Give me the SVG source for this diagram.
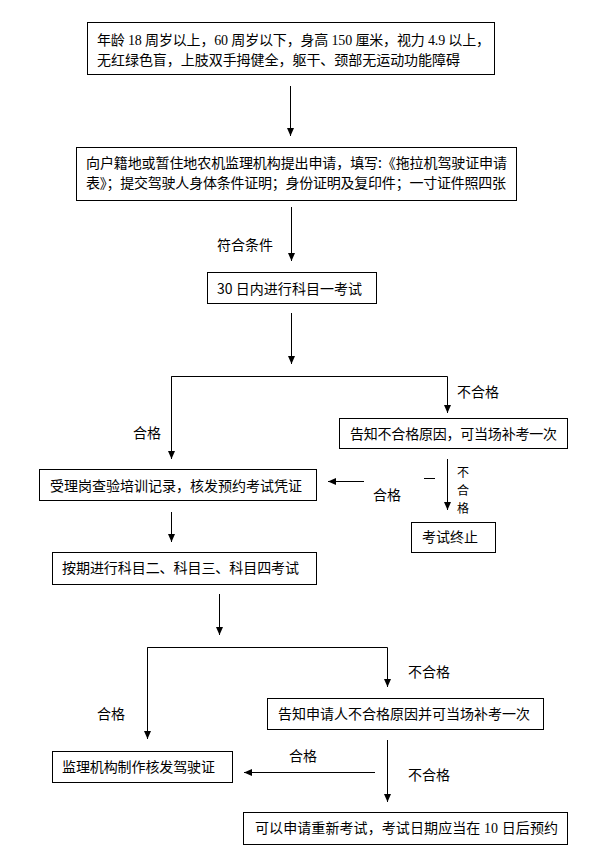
<svg xmlns="http://www.w3.org/2000/svg" width="595" height="849" viewBox="0 0 595 849">
<style>
.box{fill:#fff;stroke:#000;stroke-width:1}
.t{font-family:"Noto Sans CJK SC",sans-serif;font-size:14px;fill:#000}
.s{font-family:"Liberation Serif","Noto Sans CJK SC",serif;font-size:14px;fill:#000}
.ln{fill:none;stroke:#000;stroke-width:1}
.vm{text-anchor:middle;font-size:12px}
</style>
<defs>
<marker id="ah" markerUnits="userSpaceOnUse" markerWidth="8" markerHeight="8" refX="8" refY="3.5" orient="auto">
<path d="M0,0 L8,3.5 L0,7 z" fill="#000"/>
</marker>
</defs>
<rect width="595" height="849" fill="#fff"/>
<g id="connectors">
<line class="ln" x1="290.5" y1="86" x2="290.5" y2="136" marker-end="url(#ah)"/>
<line class="ln" x1="291.5" y1="207" x2="291.5" y2="261" marker-end="url(#ah)"/>
<line class="ln" x1="291.5" y1="313" x2="291.5" y2="364" marker-end="url(#ah)"/>
<polyline class="ln" points="171.5,459 171.5,376.5 447.5,376.5 447.5,413" marker-end="url(#ah)"/>
<line class="ln" x1="171.5" y1="376.5" x2="171.5" y2="459" marker-end="url(#ah)"/>
<line class="ln" x1="447.5" y1="459" x2="447.5" y2="510" marker-end="url(#ah)"/>
<line class="ln" x1="424" y1="478.5" x2="435" y2="478.5"/>
<line class="ln" x1="364" y1="481.5" x2="328" y2="481.5" marker-end="url(#ah)"/>
<line class="ln" x1="171.5" y1="512" x2="171.5" y2="542" marker-end="url(#ah)"/>
<line class="ln" x1="219.5" y1="594" x2="219.5" y2="635" marker-end="url(#ah)"/>
<polyline class="ln" points="147.5,739 147.5,647.5 387.5,647.5 387.5,687" marker-end="url(#ah)"/>
<line class="ln" x1="147.5" y1="647.5" x2="147.5" y2="739" marker-end="url(#ah)"/>
<line class="ln" x1="375" y1="772.5" x2="244" y2="772.5" marker-end="url(#ah)"/>
<line class="ln" x1="387.5" y1="740" x2="387.5" y2="802" marker-end="url(#ah)"/>
<text class="t" x="217" y="250">符合条件</text>
<text class="t" x="457" y="397">不合格</text>
<text class="t" x="133" y="438">合格</text>
<text class="t vm" x="463" y="477">不</text>
<text class="t vm" x="463" y="495">合</text>
<text class="t vm" x="463" y="513">格</text>
<text class="t" x="373" y="500">合格</text>
<text class="t" x="408" y="677">不合格</text>
<text class="t" x="97" y="719">合格</text>
<text class="t" x="289" y="761">合格</text>
<text class="t" x="408" y="780">不合格</text>
</g>
<g id="n1">
<rect class="box" x="87.5" y="22.5" width="407" height="52"/>
<text class="s" x="97" y="45" textLength="393">年龄 18 周岁以上，60 周岁以下，身高 150 厘米，视力 4.9 以上，</text>
<text class="t" x="97" y="65" textLength="363">无红绿色盲，上肢双手拇健全，躯干、颈部无运动功能障碍</text>
</g>
<g id="n2">
<rect class="box" x="76.5" y="147.5" width="440" height="53"/>
<text class="t" x="86" y="168" textLength="421">向户籍地或暂住地农机监理机构提出申请，填写:《拖拉机驾驶证申请</text>
<text class="t" x="86" y="188" textLength="420">表》；提交驾驶人身体条件证明；身份证明及复印件；一寸证件照四张</text>
</g>
<g id="n3">
<rect class="box" x="207.5" y="272.5" width="169" height="31"/>
<text class="t" x="217" y="294" textLength="145">30 日内进行科目一考试</text>
</g>
<g id="n4">
<rect class="box" x="339.5" y="418.5" width="228" height="30"/>
<text class="t" x="350" y="439" textLength="207">告知不合格原因，可当场补考一次</text>
</g>
<g id="n5">
<rect class="box" x="39.5" y="469.5" width="277" height="31"/>
<text class="t" x="50" y="491" textLength="252">受理岗查验培训记录，核发预约考试凭证</text>
</g>
<g id="n6">
<rect class="box" x="411.5" y="522.5" width="84" height="30"/>
<text class="t" x="422" y="542">考试终止</text>
</g>
<g id="n7">
<rect class="box" x="52.5" y="552.5" width="264" height="32"/>
<text class="t" x="62" y="573" textLength="237">按期进行科目二、科目三、科目四考试</text>
</g>
<g id="n8">
<rect class="box" x="267.5" y="698.5" width="276" height="31"/>
<text class="t" x="278" y="719" textLength="252">告知申请人不合格原因并可当场补考一次</text>
</g>
<g id="n9">
<rect class="box" x="52.5" y="751.5" width="180" height="31"/>
<text class="t" x="62" y="772" textLength="153">监理机构制作核发驾驶证</text>
</g>
<g id="n10">
<rect class="box" x="243.5" y="812.5" width="324" height="32"/>
<text class="s" x="255" y="833" textLength="303">可以申请重新考试，考试日期应当在 10 日后预约</text>
</g>
</svg>
